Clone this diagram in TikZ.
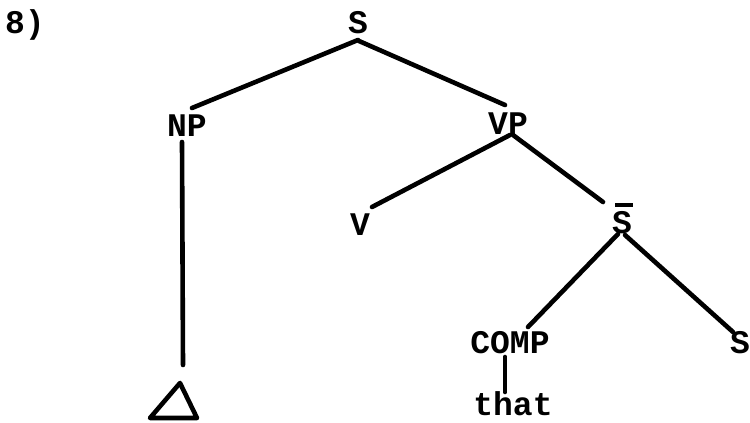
\documentclass[tikz,border=0pt]{standalone}
\usepackage{fontspec}
\setmonofont{Liberation Mono}
\begin{document}
\begin{tikzpicture}[x=1pt,y=-1pt,
  lbl/.style={font=\ttfamily\bfseries\fontsize{33}{33}\selectfont, inner sep=0pt, anchor=base},
  edge/.style={line width=4.6pt, line cap=round, line join=round}]
\useasboundingbox (0,0) rectangle (750,423);
\node[lbl] (eight) at (25,34) {8)};
\node[lbl] (s0) at (358,34) {S};
\node[lbl] (np) at (187,136) {NP};
\node[lbl] (vp) at (508,134) {VP};
\node[lbl] (v) at (360,235) {V};
\node[lbl] (sbar) at (622,233) {S};
\node[lbl] (comp) at (510,353) {COMP};
\node[lbl] (s2) at (740,353) {S};
\node[lbl] (that) at (513,415) {that};
\coordinate (apex) at (180,383);
\coordinate (bl) at (150,418);
\coordinate (br) at (197,418);
% bar over S
\draw[line width=3.4pt] ([shift={(-7,-28)}]sbar.base) -- ([shift={(11,-28)}]sbar.base);
% edges
\draw[edge] ([shift={(0,6)}]s0.base) -- ([shift={(5,-28)}]np.base);
\draw[edge] ([shift={(1,7)}]s0.base) -- ([shift={(-3,-29)}]vp.base);
\draw[edge] ([shift={(2,1)}]vp.base) -- ([shift={(12,-28)}]v.base);
\draw[edge] ([shift={(5,1)}]vp.base) -- ([shift={(-19,-31)}]sbar.base);
\draw[edge] ([shift={(-4,1)}]sbar.base) -- ([shift={(18,-26)}]comp.base);
\draw[edge] ([shift={(3,2)}]sbar.base) -- ([shift={(-7,-21)}]s2.base);
\draw[edge] ([shift={(-5,4)}]comp.base) -- ([shift={(-8,-23)}]that.base);
\draw[edge] ([shift={(-5,6)}]np.base) -- ([shift={(3,-18)}]apex);
\draw[edge] (apex) -- (bl) -- (br) -- cycle;
\end{tikzpicture}
\end{document}
